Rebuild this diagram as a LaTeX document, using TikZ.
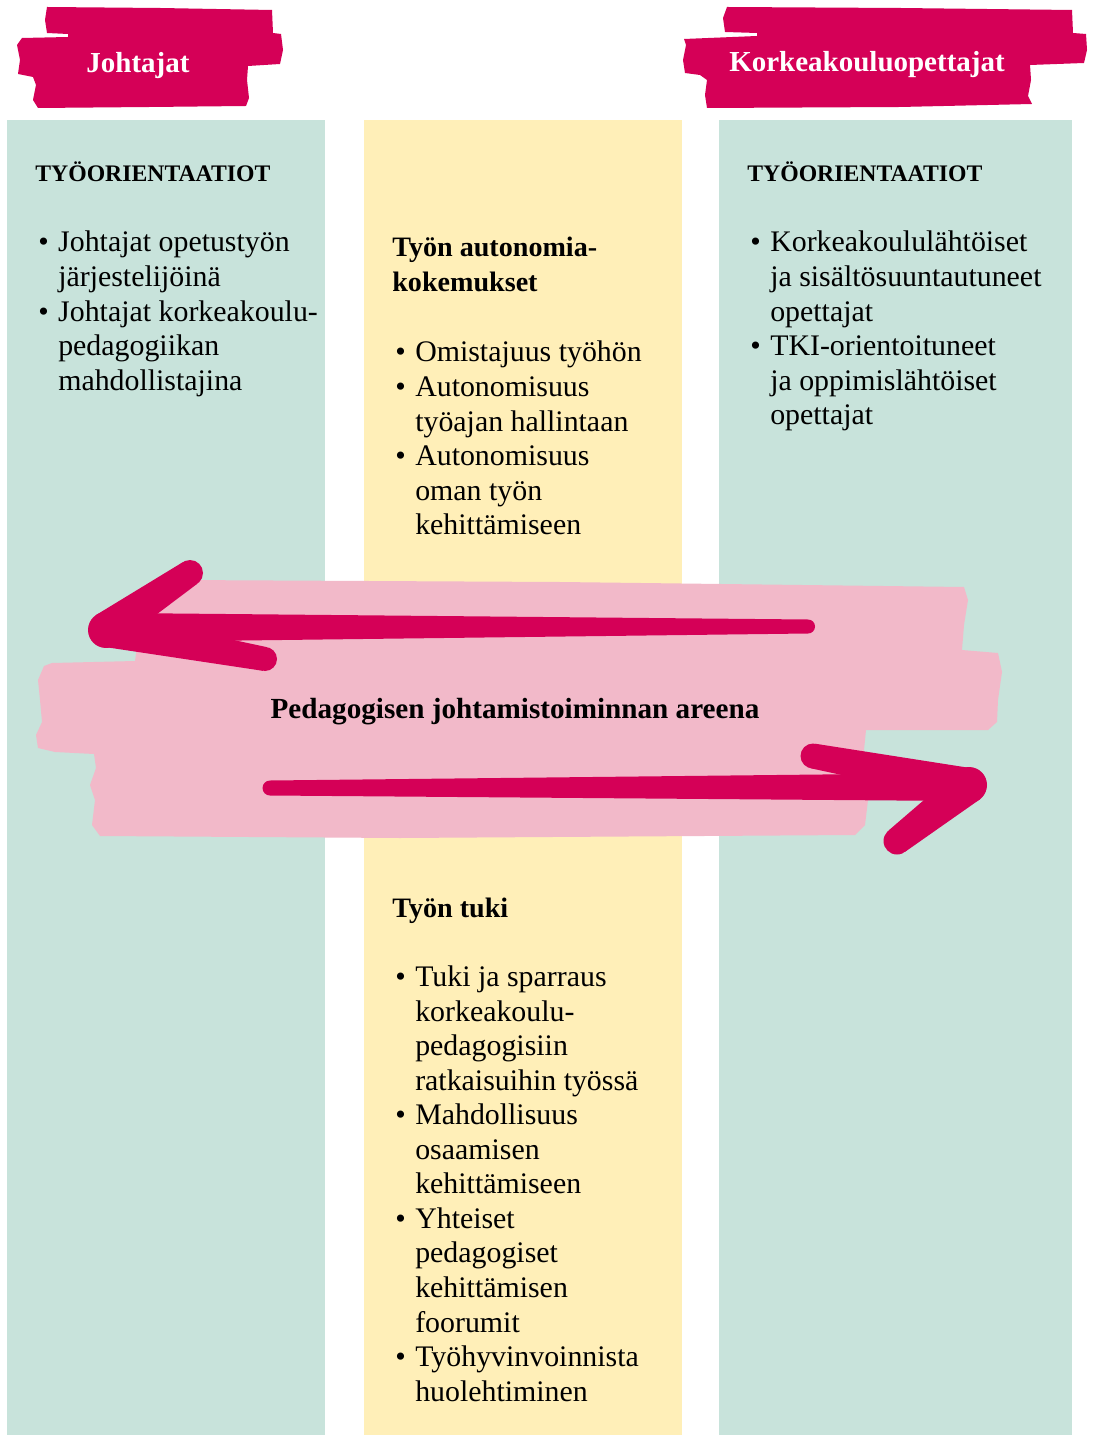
\documentclass[tikz,border=0pt]{standalone}
\usepackage{fontspec}
\setmainfont{Liberation Serif}
\usetikzlibrary{calc}

\definecolor{mint}{HTML}{C8E3DB}
\definecolor{sand}{HTML}{FFEFB8}
\definecolor{berry}{HTML}{D50057}
\definecolor{blush}{HTML}{F2B9C9}

\newlength\bulw
\setlength\bulw{11.34pt}
\newcommand\bodyfont{\fontsize{17}{19.67}\selectfont}
\newcommand\headfont{\fontsize{16}{19.67}\selectfont\bfseries}
\newcommand\taper[4]{%
        \fill [berry] ($(#1)!#3!90:(#2)$) -- ($(#2)!#4!-90:(#1)$) -- ($(#2)!#4!90:(#1)$) -- ($(#1)!#3!-90:(#2)$) -- cycle;
        \fill [berry] (#2) circle [radius=#4];
        \fill [berry] (#1) circle [radius=#3];}

\begin{document}
\begin{tikzpicture}[x=0.02cm,y=-0.02cm]
        \tikzstyle{every node}+=[inner sep=0pt]
        \tikzstyle{bodytext}=[anchor=base west, font=\bodyfont]
        \tikzstyle{headtext}=[anchor=base west, font=\headfont]
        \tikzstyle{captext}=[anchor=base west, font=\fontsize{13.5}{19.67}\selectfont\bfseries]
        \tikzstyle{tagtext}=[anchor=base, font=\fontsize{16.5}{19}\selectfont\bfseries, text=white]
        \useasboundingbox (0,0) rectangle (1095,1435);
        \fill [white] (0,0) rectangle (1095,1435);
        \fill [mint] (7,120) rectangle (325,1435);
        \fill [sand] (364,120) rectangle (682,1435);
        \fill [mint] (719,120) rectangle (1072,1435);
        \fill [berry] (47,7) -- (160,8) -- (272,10) -- (273,33) -- (281,34) -- (283,50) -- (280,64) -- (248,66) -- (247,80) -- (249,98) -- (246,106) -- (150,107) -- (38,108) -- (33,100) -- (36,85) -- (33,77) -- (18,74) -- (20,60) -- (17,45) -- (22,38) -- (68,37) -- (68,34) -- (47,33) -- (45,20) -- cycle;
        \fill [berry] (727,7) -- (900,8) -- (1072,10) -- (1073,33) -- (1086,34) -- (1087,50) -- (1084,63) -- (1030,65) -- (1031,80) -- (1028,96) -- (1032,104) -- (900,107) -- (707,108) -- (705,95) -- (707,80) -- (700,75) -- (685,73) -- (683,60) -- (686,45) -- (684,39) -- (757,36) -- (757,33) -- (725,32) -- (723,18) -- cycle;
        \fill [blush] (178,580) -- (560,582) -- (964,587) -- (968,600) -- (964,625) -- (962,650) -- (998,653) -- (1002,672) -- (998,700) -- (997,722) -- (988,730) -- (866,730) -- (863,760) -- (868,800) -- (865,825) -- (855,835) -- (400,838) -- (100,836) -- (92,825) -- (95,800) -- (90,785) -- (96,768) -- (94,754) -- (55,752) -- (38,748) -- (36,735) -- (42,722) -- (40,700) -- (38,680) -- (44,666) -- (52,663) -- (135,661) -- (138,640) -- (150,612) -- cycle;
        \coordinate (ltip) at (106,630);
        \coordinate (lup) at (190,573);
        \coordinate (ldown) at (265,659);
        \coordinate (rtip) at (969,785);
        \coordinate (rup) at (813,756);
        \coordinate (rdown) at (897,841);
        \fill [berry] (120,613) -- (808,619.5) arc (-90:90:7) -- (120,642) -- cycle;
        \taper{ltip}{lup}{0.36cm}{0.26cm}
        \taper{ltip}{ldown}{0.34cm}{0.24cm}
        \fill [berry] (270,780.5) -- (960,773) -- (960,801) -- (270,795.5) arc (90:270:7.5) -- cycle;
        \taper{rtip}{rup}{0.34cm}{0.25cm}
        \taper{rtip}{rdown}{0.36cm}{0.27cm}
        \node [tagtext] (lefttag) at (138,73) {Johtajat};
        \node [tagtext] (righttag) at (867,72) {Korkeakouluopettajat};
        \node [captext] (lefttitle) at (35,182) {TYÖORIENTAATIOT};
        \node [captext] (righttitle) at (747,182) {TYÖORIENTAATIOT};
        \node [bodytext] (leftlist) at (38,252) {\begin{tabular}[t]{@{}p{\bulw}@{}l@{}}
                \textbullet & Johtajat opetustyön\\ & järjestelijöinä\\
                \textbullet & Johtajat korkeakoulu-\\ & pedagogiikan\\ & mahdollistajina
                \end{tabular}};
        \node [bodytext] (rightlist) at (750,252) {\begin{tabular}[t]{@{}p{\bulw}@{}l@{}}
                \textbullet & Korkeakoululähtöiset\\ & ja sisältösuuntautuneet\\ & opettajat\\
                \textbullet & TKI-orientoituneet\\ & ja oppimislähtöiset\\ & opettajat
                \end{tabular}};
        \node [headtext] (autohead) at (392,257) {\begin{tabular}[t]{@{}l@{}}Työn autonomia-\\kokemukset\end{tabular}};
        \node [bodytext] (autolist) at (395,362) {\begin{tabular}[t]{@{}p{\bulw}@{}l@{}}
                \textbullet & Omistajuus työhön\\
                \textbullet & Autonomisuus\\ & työajan hallintaan\\
                \textbullet & Autonomisuus\\ & oman työn\\ & kehittämiseen
                \end{tabular}};
        \node [headtext, anchor=base, font=\fontsize{16.6}{19.67}\selectfont\bfseries] (arena) at (515,718) {Pedagogisen johtamistoiminnan areena};
        \node [headtext] (tukihead) at (392,917) {Työn tuki};
        \node [bodytext] (tukilist) at (395,986.5) {\begin{tabular}[t]{@{}p{\bulw}@{}l@{}}
                \textbullet & Tuki ja sparraus\\ & korkeakoulu-\\ & pedagogisiin\\ & ratkaisuihin työssä\\
                \textbullet & Mahdollisuus\\ & osaamisen\\ & kehittämiseen\\
                \textbullet & Yhteiset\\ & pedagogiset\\ & kehittämisen\\ & foorumit\\
                \textbullet & Työhyvinvoinnista\\ & huolehtiminen
                \end{tabular}};
        \end{tikzpicture}
\end{document}
